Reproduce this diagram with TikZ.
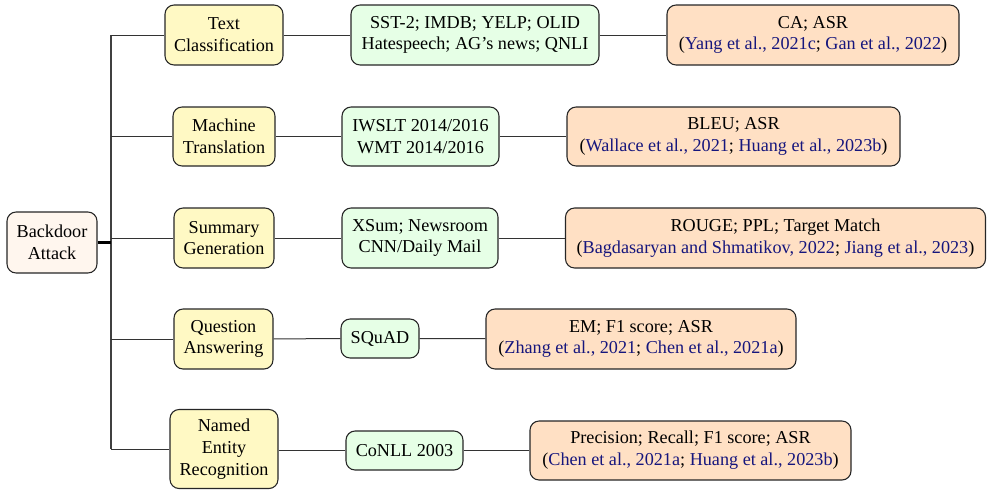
\documentclass[tikz,border=0pt]{standalone}
\usepackage{fontspec}
\setmainfont{Liberation Serif}
\definecolor{rootfill}{HTML}{FFF6EE}
\definecolor{lonefill}{HTML}{FFF9C4}
\definecolor{ltwofill}{HTML}{E6FFE6}
\definecolor{lthreefill}{HTML}{FFE0C4}
\definecolor{citeblue}{RGB}{22,22,125}
\newcommand{\cit}[1]{\textcolor{citeblue}{#1}}
\tikzset{
  box/.style={draw=black!85, line width=0.6pt, rounded corners=5pt, align=center, inner sep=0pt,
    font=\fontsize{10}{12}\selectfont},
  rootbox/.style={box, fill=rootfill},
  lonebox/.style={box, fill=lonefill},
  ltwobox/.style={box, fill=ltwofill},
  lthreebox/.style={box, fill=lthreefill},
  conn/.style={draw=black!80, line width=0.55pt},
  forkline/.style={draw=black!75, line width=0.9pt},
  rootconn/.style={draw=black, line width=1.3pt},
  wh/.style 2 args={minimum width=#1*0.55pt, minimum height=#2*0.55pt},
}
\begin{document}
\begin{tikzpicture}[x=0.55pt,y=-0.55pt]
\useasboundingbox (0,0) rectangle (987,489);
% root
\node[rootbox, wh={90}{61}] (root) at (52,242.5) {Backdoor\\Attack};
\coordinate (fork) at (111,242.5);
% level 1
\node[lonebox, wh={118}{60}] (tc) at (224,35) {Text\\Classification};
\node[lonebox, wh={102}{59}] (mt) at (224,136.5) {Machine\\Translation};
\node[lonebox, wh={100}{60}] (sg) at (224,238) {Summary\\Generation};
\node[lonebox, wh={99}{60}] (qa) at (223.5,339) {Question\\Answering};
\node[lonebox, wh={108}{79}] (ner) at (224,449) {Named\\Entity\\Recognition};
% level 2
\node[ltwobox, wh={248}{60}] (sst) at (475,35) {SST-2; IMDB; YELP; OLID\\Hatespeech; AG’s news; QNLI};
\node[ltwobox, wh={157}{59}] (iw) at (420.5,136.5) {IWSLT 2014/2016\\WMT 2014/2016};
\node[ltwobox, wh={156}{60}] (xs) at (420,238) {XSum; Newsroom\\CNN/Daily Mail};
\node[ltwobox, wh={78}{39}] (sq) at (380,338.5) {SQuAD};
\node[ltwobox, wh={117}{39}] (co) at (404.5,450.5) {CoNLL 2003};
% level 3
\node[lthreebox, wh={292}{60}] (ca) at (813,35) {CA; ASR\\(\cit{Yang et al., 2021c}; \cit{Gan et al., 2022})};
\node[lthreebox, wh={333}{59}] (bleu) at (733.5,136.5) {BLEU; ASR\\(\cit{Wallace et al., 2021}; \cit{Huang et al., 2023b})};
\node[lthreebox, wh={420}{60}] (rouge) at (775.5,238) {ROUGE; PPL; Target Match\\(\cit{Bagdasaryan and Shmatikov, 2022}; \cit{Jiang et al., 2023})};
\node[lthreebox, wh={310}{60}] (em) at (641,339) {EM; F1 score; ASR\\(\cit{Zhang et al., 2021}; \cit{Chen et al., 2021a})};
\node[lthreebox, wh={321}{59}] (prec) at (690.5,450.5) {Precision; Recall; F1 score; ASR\\(\cit{Chen et al., 2021a}; \cit{Huang et al., 2023b})};
% connectors
\draw[forkline] (fork |- tc.west) -- (fork |- ner.west);
\foreach \c in {tc,mt,sg,qa,ner} { \draw[conn] (fork |- \c.west) -- (\c.west); }
\draw[rootconn] (root.east) -- (fork);
\draw[conn] (tc) -- (sst);
\draw[conn] (mt) -- (iw);
\draw[conn] (sg) -- (xs);
\draw[conn] (qa) -- (sq);
\draw[conn] (ner.east |- co.west) -- (co);
\draw[conn] (sst) -- (ca);
\draw[conn] (iw) -- (bleu);
\draw[conn] (xs) -- (rouge);
\draw[conn] (sq) -- (em);
\draw[conn] (co) -- (prec);
\end{tikzpicture}
\end{document}
